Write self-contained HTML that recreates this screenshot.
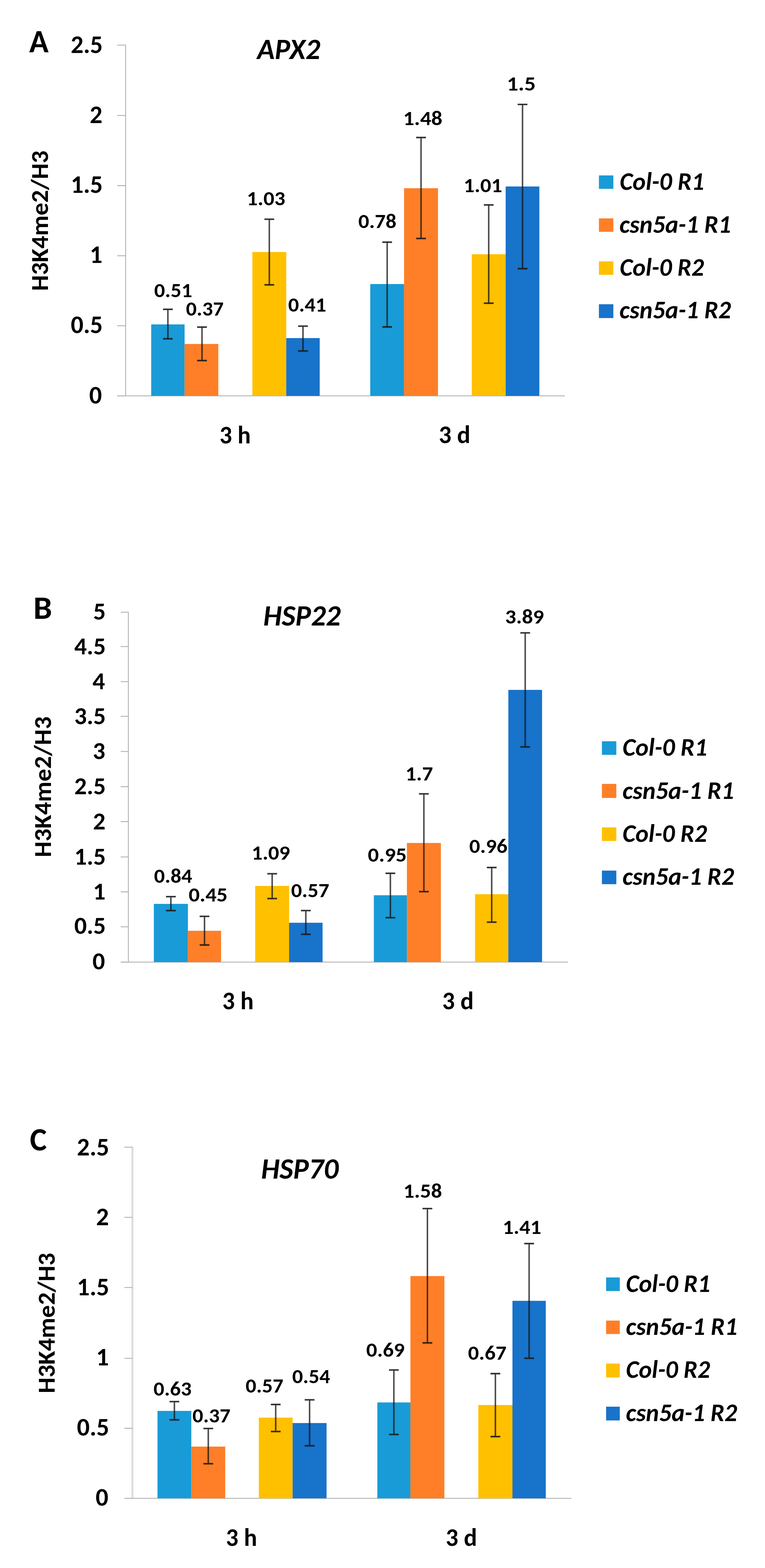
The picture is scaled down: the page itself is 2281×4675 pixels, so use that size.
<!DOCTYPE html>
<html><head><meta charset="utf-8"><title>H3K4me2/H3 ChIP</title>
<style>html,body{margin:0;padding:0;background:#fff}svg{display:block}</style></head>
<body><svg width="2281" height="4675" viewBox="0 0 2281 4675" font-family="Carlito, 'Liberation Sans', sans-serif" font-weight="bold" fill="#000" style="font-size-adjust:cap-height 0.6484">
<rect width="2281" height="4675" fill="#fff" stroke="none"/>
<g stroke="#B0B0B0" stroke-width="2.6" fill="none">
<path d="M374.5 133.2V1180.3" stroke="#B0B0B0" stroke-width="2.6"/>
<path d="M349.2 1180.3H1684"/>
<path d="M349.2 134.5H374.5M349.2 344.2H374.5M349.2 553.4H374.5M349.2 762.5H374.5M349.2 971.2H374.5M349.2 1180.3H374.5"/>
</g>
<rect x="450.8" y="967.2" width="99.6" height="213.1" fill="#199BD7" stroke="none"/>
<rect x="550.4" y="1025.5" width="100.6" height="154.8" fill="#FE7F27" stroke="none"/>
<rect x="752.5" y="751.4" width="101" height="428.9" fill="#FFC000" stroke="none"/>
<rect x="853.5" y="1008" width="99.8" height="172.3" fill="#1873CA" stroke="none"/>
<rect x="1104" y="846.9" width="100.8" height="333.4" fill="#199BD7" stroke="none"/>
<rect x="1204.8" y="561.2" width="101.2" height="619.1" fill="#FE7F27" stroke="none"/>
<rect x="1406.7" y="758" width="101" height="422.3" fill="#FFC000" stroke="none"/>
<rect x="1507.7" y="556" width="100.5" height="624.3" fill="#1873CA" stroke="none"/>
<path d="M500.6 922.3V1010.1M602.3 975.3V1075M803 653.6V849.3M903.4 972.4V1046.4M1154.4 722V974.7M1255.4 410V711M1457.2 611V904M1558 311.4V801M486.1 922.3H515.1M486.1 1010.1H515.1M587.8 975.3H616.8M587.8 1075H616.8M788.5 653.6H817.5M788.5 849.3H817.5M888.9 972.4H917.9M888.9 1046.4H917.9M1139.9 722H1168.9M1139.9 974.7H1168.9M1240.9 410H1269.9M1240.9 711H1269.9M1442.7 611H1471.7M1442.7 904H1471.7M1543.5 311.4H1572.5M1543.5 801H1572.5" stroke="#000" stroke-opacity="0.2" stroke-width="7" fill="none"/>
<path d="M500.6 922.3V1010.1M602.3 975.3V1075M803 653.6V849.3M903.4 972.4V1046.4M1154.4 722V974.7M1255.4 410V711M1457.2 611V904M1558 311.4V801" stroke="#1a1a1a" stroke-width="2.6" fill="none"/>
<path d="M486.1 922.3H515.1M486.1 1010.1H515.1M587.8 975.3H616.8M587.8 1075H616.8M788.5 653.6H817.5M788.5 849.3H817.5M888.9 972.4H917.9M888.9 1046.4H917.9M1139.9 722H1168.9M1139.9 974.7H1168.9M1240.9 410H1269.9M1240.9 711H1269.9M1442.7 611H1471.7M1442.7 904H1471.7M1543.5 311.4H1572.5M1543.5 801H1572.5" stroke="#1a1a1a" stroke-width="3.4" fill="none"/>
<text x="459.7" y="886.2" font-size="60.5" textLength="113.5" lengthAdjust="spacingAndGlyphs">0.51</text>
<text x="554.5" y="941.1" font-size="60.5" textLength="112.2" lengthAdjust="spacingAndGlyphs">0.37</text>
<text x="735.8" y="611.5" font-size="60.5" textLength="114.7" lengthAdjust="spacingAndGlyphs">1.03</text>
<text x="859.3" y="929" font-size="60.5" textLength="113.5" lengthAdjust="spacingAndGlyphs">0.41</text>
<text x="1068.4" y="680.1" font-size="60.5" textLength="113.7" lengthAdjust="spacingAndGlyphs">0.78</text>
<text x="1201.9" y="372.5" font-size="60.5" textLength="117.2" lengthAdjust="spacingAndGlyphs">1.48</text>
<text x="1382.2" y="573.1" font-size="60.5" textLength="115.1" lengthAdjust="spacingAndGlyphs">1.01</text>
<text x="1511.2" y="269.5" font-size="60.5" textLength="86.2" lengthAdjust="spacingAndGlyphs">1.5</text>
<text x="210.9" y="158" font-size="74.6" textLength="95.5" lengthAdjust="spacingAndGlyphs">2.5</text>
<text x="267.6" y="367.3" font-size="74.6" textLength="37.8" lengthAdjust="spacingAndGlyphs">2</text>
<text x="210.9" y="574.6" font-size="74.6" textLength="95.5" lengthAdjust="spacingAndGlyphs">1.5</text>
<text x="267.6" y="783.7" font-size="74.6" textLength="37.8" lengthAdjust="spacingAndGlyphs">1</text>
<text x="210.9" y="993" font-size="74.6" textLength="95.5" lengthAdjust="spacingAndGlyphs">0.5</text>
<text x="266.1" y="1203" font-size="74.6" textLength="37.8" lengthAdjust="spacingAndGlyphs">0</text>
<text x="87" y="156.4" font-size="98" textLength="57.9" lengthAdjust="spacingAndGlyphs">A</text>
<text x="766.8" y="175.9" font-size="86.5" font-style="italic" textLength="187.9" lengthAdjust="spacingAndGlyphs">APX2</text>
<text transform="translate(142.5,863) rotate(-90)" x="-4.5" y="0" font-size="73.6" textLength="418.6" lengthAdjust="spacingAndGlyphs">H3K4me2/H3</text>
<text x="654.5" y="1321.5" font-size="74" textLength="93.3" lengthAdjust="spacingAndGlyphs">3 h</text>
<text x="1308.3" y="1321.2" font-size="74" textLength="94.2" lengthAdjust="spacingAndGlyphs">3 d</text>
<rect x="1785.8" y="523" width="43" height="40" fill="#199BD7" stroke="none"/>
<rect x="1785.8" y="651.1" width="43" height="40.1" fill="#FE7F27" stroke="none"/>
<rect x="1785.8" y="779.3" width="43" height="40.1" fill="#FFC000" stroke="none"/>
<rect x="1785.8" y="907.1" width="43" height="41.2" fill="#1873CA" stroke="none"/>
<text x="1848" y="565.9" font-size="74" font-style="italic" textLength="251.6" lengthAdjust="spacingAndGlyphs">Col-0 R1</text>
<text x="1847" y="694" font-size="74" font-style="italic" textLength="332.4" lengthAdjust="spacingAndGlyphs">csn5a-1 R1</text>
<text x="1848" y="822" font-size="74" font-style="italic" textLength="251" lengthAdjust="spacingAndGlyphs">Col-0 R2</text>
<text x="1847" y="949" font-size="74" font-style="italic" textLength="332.3" lengthAdjust="spacingAndGlyphs">csn5a-1 R2</text>
<g stroke="#B0B0B0" stroke-width="2.6" fill="none">
<path d="M382.8 1823.9V2868.5" stroke="#B0B0B0" stroke-width="2.6"/>
<path d="M360 2868.5H1693.3"/>
<path d="M360 1825.2H382.8M360 1927.7H382.8M360 2032.3H382.8M360 2135.8H382.8M360 2240.5H382.8M360 2345.4H382.8M360 2449.6H382.8M360 2555H382.8M360 2659.1H382.8M360 2763.3H382.8M360 2868.5H382.8"/>
</g>
<rect x="458.7" y="2694.9" width="101.7" height="173.6" fill="#199BD7" stroke="none"/>
<rect x="560.4" y="2775.1" width="98.8" height="93.4" fill="#FE7F27" stroke="none"/>
<rect x="760.9" y="2641.4" width="101.1" height="227.1" fill="#FFC000" stroke="none"/>
<rect x="862" y="2751.2" width="99.8" height="117.3" fill="#1873CA" stroke="none"/>
<rect x="1114.7" y="2669.2" width="98.6" height="199.3" fill="#199BD7" stroke="none"/>
<rect x="1213.3" y="2513.3" width="101.3" height="355.2" fill="#FE7F27" stroke="none"/>
<rect x="1416.4" y="2666.1" width="99.3" height="202.4" fill="#FFC000" stroke="none"/>
<rect x="1515.7" y="2056.9" width="100.6" height="811.6" fill="#1873CA" stroke="none"/>
<path d="M509.5 2673.4V2714.9M609.8 2732.1V2817.5M811.5 2605.1V2679.1M911.9 2714.9V2785.6M1164 2603.7V2736.1M1263.9 2366.9V2658.4M1466.1 2586.5V2749.4M1566 1886.9V2226.9M495 2673.4H524M495 2714.9H524M595.3 2732.1H624.3M595.3 2817.5H624.3M797 2605.1H826M797 2679.1H826M897.4 2714.9H926.4M897.4 2785.6H926.4M1149.5 2603.7H1178.5M1149.5 2736.1H1178.5M1249.4 2366.9H1278.4M1249.4 2658.4H1278.4M1451.6 2586.5H1480.6M1451.6 2749.4H1480.6M1551.5 1886.9H1580.5M1551.5 2226.9H1580.5" stroke="#000" stroke-opacity="0.2" stroke-width="7" fill="none"/>
<path d="M509.5 2673.4V2714.9M609.8 2732.1V2817.5M811.5 2605.1V2679.1M911.9 2714.9V2785.6M1164 2603.7V2736.1M1263.9 2366.9V2658.4M1466.1 2586.5V2749.4M1566 1886.9V2226.9" stroke="#1a1a1a" stroke-width="2.6" fill="none"/>
<path d="M495 2673.4H524M495 2714.9H524M595.3 2732.1H624.3M595.3 2817.5H624.3M797 2605.1H826M797 2679.1H826M897.4 2714.9H926.4M897.4 2785.6H926.4M1149.5 2603.7H1178.5M1149.5 2736.1H1178.5M1249.4 2366.9H1278.4M1249.4 2658.4H1278.4M1451.6 2586.5H1480.6M1451.6 2749.4H1480.6M1551.5 1886.9H1580.5M1551.5 2226.9H1580.5" stroke="#1a1a1a" stroke-width="3.4" fill="none"/>
<text x="459.3" y="2632.3" font-size="60.5" textLength="113.6" lengthAdjust="spacingAndGlyphs">0.84</text>
<text x="562.4" y="2688.2" font-size="60.5" textLength="116.1" lengthAdjust="spacingAndGlyphs">0.45</text>
<text x="750.2" y="2562.6" font-size="60.5" textLength="114.6" lengthAdjust="spacingAndGlyphs">1.09</text>
<text x="867.9" y="2674.8" font-size="60.5" textLength="113.8" lengthAdjust="spacingAndGlyphs">0.57</text>
<text x="1096.8" y="2568.8" font-size="60.5" textLength="115.8" lengthAdjust="spacingAndGlyphs">0.95</text>
<text x="1208.8" y="2326.9" font-size="60.5" textLength="82.2" lengthAdjust="spacingAndGlyphs">1.7</text>
<text x="1399.2" y="2543.3" font-size="60.5" textLength="113.7" lengthAdjust="spacingAndGlyphs">0.96</text>
<text x="1506.1" y="1859.1" font-size="60.5" textLength="115.8" lengthAdjust="spacingAndGlyphs">3.89</text>
<text x="278" y="1847" font-size="73.5" textLength="37.3" lengthAdjust="spacingAndGlyphs">5</text>
<text x="221.4" y="1951" font-size="73.5" textLength="94.1" lengthAdjust="spacingAndGlyphs">4.5</text>
<text x="275.8" y="2055" font-size="73.5" textLength="37.3" lengthAdjust="spacingAndGlyphs">4</text>
<text x="221.4" y="2159" font-size="73.5" textLength="94.1" lengthAdjust="spacingAndGlyphs">3.5</text>
<text x="276.5" y="2263" font-size="73.5" textLength="37.3" lengthAdjust="spacingAndGlyphs">3</text>
<text x="221.4" y="2368.2" font-size="73.5" textLength="94.1" lengthAdjust="spacingAndGlyphs">2.5</text>
<text x="277.3" y="2472.7" font-size="73.5" textLength="37.3" lengthAdjust="spacingAndGlyphs">2</text>
<text x="221.4" y="2577.8" font-size="73.5" textLength="94.1" lengthAdjust="spacingAndGlyphs">1.5</text>
<text x="277.3" y="2682.2" font-size="73.5" textLength="37.3" lengthAdjust="spacingAndGlyphs">1</text>
<text x="221.4" y="2784.3" font-size="73.5" textLength="94.1" lengthAdjust="spacingAndGlyphs">0.5</text>
<text x="275.8" y="2890.3" font-size="73.5" textLength="37.3" lengthAdjust="spacingAndGlyphs">0</text>
<text x="99.5" y="1845.3" font-size="98" textLength="55.8" lengthAdjust="spacingAndGlyphs">B</text>
<text x="785.1" y="1864.7" font-size="86.5" font-style="italic" textLength="230.8" lengthAdjust="spacingAndGlyphs">HSP22</text>
<text transform="translate(151.6,2551.6) rotate(-90)" x="-4.5" y="0" font-size="73.6" textLength="419.9" lengthAdjust="spacingAndGlyphs">H3K4me2/H3</text>
<text x="662.7" y="3009" font-size="74" textLength="93.7" lengthAdjust="spacingAndGlyphs">3 h</text>
<text x="1318.6" y="3009" font-size="74" textLength="93.9" lengthAdjust="spacingAndGlyphs">3 d</text>
<rect x="1794.7" y="2210.1" width="43" height="40.5" fill="#199BD7" stroke="none"/>
<rect x="1794.7" y="2337.2" width="43" height="41.9" fill="#FE7F27" stroke="none"/>
<rect x="1794.7" y="2466.8" width="43" height="40.5" fill="#FFC000" stroke="none"/>
<rect x="1794.7" y="2595.7" width="43" height="40.5" fill="#1873CA" stroke="none"/>
<text x="1856.3" y="2253" font-size="74" font-style="italic" textLength="252.2" lengthAdjust="spacingAndGlyphs">Col-0 R1</text>
<text x="1855.9" y="2381.5" font-size="74" font-style="italic" textLength="332.5" lengthAdjust="spacingAndGlyphs">csn5a-1 R1</text>
<text x="1856.3" y="2510" font-size="74" font-style="italic" textLength="251.8" lengthAdjust="spacingAndGlyphs">Col-0 R2</text>
<text x="1855.9" y="2638" font-size="74" font-style="italic" textLength="332.7" lengthAdjust="spacingAndGlyphs">csn5a-1 R2</text>
<g stroke="#B0B0B0" stroke-width="2.6" fill="none">
<path d="M395 3419V4467.3" stroke="#DCDCDC" stroke-width="5.8"/>
<path d="M370.8 4467.3H1703.7"/>
<path d="M370.8 3420.3H395M370.8 3629.5H395M370.8 3838.7H395M370.8 4050H395M370.8 4258.4H395M370.8 4467.3H395"/>
</g>
<rect x="469.6" y="4206.6" width="100.8" height="260.7" fill="#199BD7" stroke="none"/>
<rect x="570.4" y="4313" width="101.2" height="154.3" fill="#FE7F27" stroke="none"/>
<rect x="771.8" y="4226.6" width="100.7" height="240.7" fill="#FFC000" stroke="none"/>
<rect x="872.5" y="4242.8" width="101.2" height="224.5" fill="#1873CA" stroke="none"/>
<rect x="1125.1" y="4181.4" width="98.7" height="285.9" fill="#199BD7" stroke="none"/>
<rect x="1223.8" y="3804.6" width="101.2" height="662.7" fill="#FE7F27" stroke="none"/>
<rect x="1426.2" y="4189" width="101.8" height="278.3" fill="#FFC000" stroke="none"/>
<rect x="1528" y="3878.4" width="99.4" height="588.9" fill="#1873CA" stroke="none"/>
<path d="M520 4178.9V4233.3M621 4259.1V4364.1M822.1 4187.5V4268.1M923.1 4173.6V4310.6M1174.4 4084.6V4276.9M1274.4 3603.4V4003.8M1477.1 4095.5V4283.2M1577.7 3707.8V4049.6M505.5 4178.9H534.5M505.5 4233.3H534.5M606.5 4259.1H635.5M606.5 4364.1H635.5M807.6 4187.5H836.6M807.6 4268.1H836.6M908.6 4173.6H937.6M908.6 4310.6H937.6M1159.9 4084.6H1188.9M1159.9 4276.9H1188.9M1259.9 3603.4H1288.9M1259.9 4003.8H1288.9M1462.6 4095.5H1491.6M1462.6 4283.2H1491.6M1563.2 3707.8H1592.2M1563.2 4049.6H1592.2" stroke="#000" stroke-opacity="0.2" stroke-width="7" fill="none"/>
<path d="M520 4178.9V4233.3M621 4259.1V4364.1M822.1 4187.5V4268.1M923.1 4173.6V4310.6M1174.4 4084.6V4276.9M1274.4 3603.4V4003.8M1477.1 4095.5V4283.2M1577.7 3707.8V4049.6" stroke="#1a1a1a" stroke-width="2.6" fill="none"/>
<path d="M505.5 4178.9H534.5M505.5 4233.3H534.5M606.5 4259.1H635.5M606.5 4364.1H635.5M807.6 4187.5H836.6M807.6 4268.1H836.6M908.6 4173.6H937.6M908.6 4310.6H937.6M1159.9 4084.6H1188.9M1159.9 4276.9H1188.9M1259.9 3603.4H1288.9M1259.9 4003.8H1288.9M1462.6 4095.5H1491.6M1462.6 4283.2H1491.6M1563.2 3707.8H1592.2M1563.2 4049.6H1592.2" stroke="#1a1a1a" stroke-width="3.4" fill="none"/>
<text x="457.8" y="4160.7" font-size="60.5" textLength="113.3" lengthAdjust="spacingAndGlyphs">0.63</text>
<text x="573.8" y="4241.4" font-size="60.5" textLength="113.3" lengthAdjust="spacingAndGlyphs">0.37</text>
<text x="732.3" y="4152.1" font-size="60.5" textLength="112.8" lengthAdjust="spacingAndGlyphs">0.57</text>
<text x="871.2" y="4123.5" font-size="60.5" textLength="113.1" lengthAdjust="spacingAndGlyphs">0.54</text>
<text x="1092" y="4045.3" font-size="60.5" textLength="114.5" lengthAdjust="spacingAndGlyphs">0.69</text>
<text x="1202.7" y="3570.5" font-size="60.5" textLength="115.2" lengthAdjust="spacingAndGlyphs">1.58</text>
<text x="1395.6" y="4054.2" font-size="60.5" textLength="114.5" lengthAdjust="spacingAndGlyphs">0.67</text>
<text x="1498.7" y="3678.7" font-size="60.5" textLength="115.1" lengthAdjust="spacingAndGlyphs">1.41</text>
<text x="229.3" y="3444.6" font-size="75.2" textLength="96.3" lengthAdjust="spacingAndGlyphs">2.5</text>
<text x="286.5" y="3653.3" font-size="75.2" textLength="38.1" lengthAdjust="spacingAndGlyphs">2</text>
<text x="229.3" y="3862.4" font-size="75.2" textLength="96.3" lengthAdjust="spacingAndGlyphs">1.5</text>
<text x="286.5" y="4071.3" font-size="75.2" textLength="38.1" lengthAdjust="spacingAndGlyphs">1</text>
<text x="229.3" y="4279.5" font-size="75.2" textLength="96.3" lengthAdjust="spacingAndGlyphs">0.5</text>
<text x="285" y="4489" font-size="75.2" textLength="38.1" lengthAdjust="spacingAndGlyphs">0</text>
<text x="89.1" y="3429.8" font-size="98" textLength="50.6" lengthAdjust="spacingAndGlyphs">C</text>
<text x="778.4" y="3514.3" font-size="86.5" font-style="italic" textLength="231.1" lengthAdjust="spacingAndGlyphs">HSP70</text>
<text transform="translate(163.4,4149.8) rotate(-90)" x="-4.5" y="0" font-size="73.6" textLength="418.8" lengthAdjust="spacingAndGlyphs">H3K4me2/H3</text>
<text x="673.6" y="4609" font-size="74" textLength="93" lengthAdjust="spacingAndGlyphs">3 h</text>
<text x="1329.1" y="4608.7" font-size="74" textLength="93.4" lengthAdjust="spacingAndGlyphs">3 d</text>
<rect x="1807.2" y="3808.7" width="40.8" height="40.5" fill="#199BD7" stroke="none"/>
<rect x="1807.2" y="3937.3" width="40.8" height="40.1" fill="#FE7F27" stroke="none"/>
<rect x="1807.2" y="4065.4" width="40.8" height="41.6" fill="#FFC000" stroke="none"/>
<rect x="1807.2" y="4194" width="40.8" height="41.1" fill="#1873CA" stroke="none"/>
<text x="1866.6" y="3851.7" font-size="74" font-style="italic" textLength="251.2" lengthAdjust="spacingAndGlyphs">Col-0 R1</text>
<text x="1866.2" y="3979.9" font-size="74" font-style="italic" textLength="332.5" lengthAdjust="spacingAndGlyphs">csn5a-1 R1</text>
<text x="1866.6" y="4108.3" font-size="74" font-style="italic" textLength="250.4" lengthAdjust="spacingAndGlyphs">Col-0 R2</text>
<text x="1866.2" y="4236.7" font-size="74" font-style="italic" textLength="331.5" lengthAdjust="spacingAndGlyphs">csn5a-1 R2</text>
</svg></body></html>
